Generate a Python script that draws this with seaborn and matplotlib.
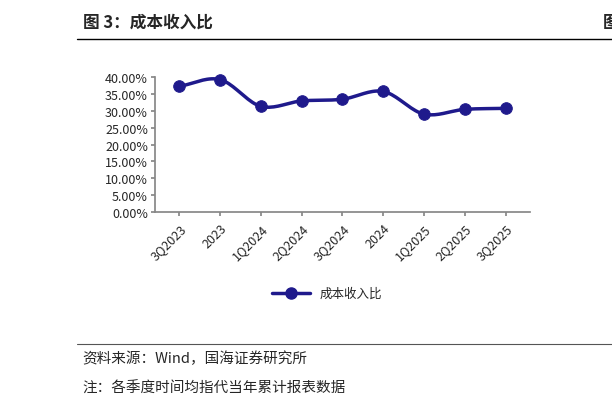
import numpy as np
import pandas as pd
import matplotlib
matplotlib.use("Agg")
import matplotlib.pyplot as plt
import seaborn as sns

categories = ["3Q2023", "2023", "1Q2024", "2Q2024", "3Q2024", "2024", "1Q2025", "2Q2025", "3Q2025"]
values = [37.2, 39.2, 31.3, 32.9, 33.4, 35.7, 29.0, 30.4, 30.7]
series_name = "成本收入比"

sns.set_theme(style="white")
plt.rcParams['font.family'] = ['Noto Sans CJK SC', 'DejaVu Sans']

df = pd.DataFrame({"cat": categories, "val": np.array(values) / 100, "x": np.arange(len(categories))})

fig = plt.figure(figsize=(6.12, 4.10), dpi=100)
ax = fig.add_axes([0.253, 0.480, 0.613, 0.330])
color = "#1F1A8C"

x = df["x"].to_numpy(float); y = df["val"].to_numpy()
px = np.concatenate([[2*x[0]-x[1]], x, [2*x[-1]-x[-2]]])
py = np.concatenate([[2*y[0]-y[1]], y, [2*y[-1]-y[-2]]])
sx, sy = [], []
t = np.linspace(0, 1, 20)
for i in range(1, len(px)-2):
    for arr, out in ((px, sx), (py, sy)):
        p0, p1, p2, p3 = arr[i-1:i+3]
        out.extend(0.5*((2*p1) + (-p0+p2)*t + (2*p0-5*p1+4*p2-p3)*t**2 + (-p0+3*p1-3*p2+p3)*t**3))
ax.plot(sx, sy, color=color, lw=2.5, clip_on=False)
sns.scatterplot(data=df, x="x", y="val", color=color, s=70, ax=ax, zorder=3, edgecolor=color, clip_on=False)
ax.plot([], [], color=color, lw=2.5, marker="o", ms=8, label=series_name)

ax.set_ylim(0, 0.40)
ax.set_yticks(np.arange(0, 0.401, 0.05))
ax.set_yticklabels([f"{v*100:.2f}%" for v in np.arange(0, 0.401, 0.05)], fontsize=9)
ax.set_xlim(-0.6, len(categories)-0.4)
ax.set_xticks(df["x"])
ax.set_xticklabels(categories, rotation=45, ha="right", rotation_mode="anchor", fontsize=9)
ax.set_xlabel(""); ax.set_ylabel("")
for s in ["top", "right"]:
    ax.spines[s].set_visible(False)
for s in ["left", "bottom"]:
    ax.spines[s].set_color("#888888")
ax.tick_params(axis="y", left=True, length=3, color="#888888", pad=2)
ax.tick_params(axis="x", bottom=True, length=3, color="#888888")

ax.legend(loc="upper center", bbox_to_anchor=(0.46, -0.47), frameon=False, fontsize=9, handlelength=3)

fig.text(0.135, 0.945, "图 3：成本收入比", fontsize=12, fontweight="bold", va="center")
fig.text(0.985, 0.945, "图", fontsize=12, fontweight="bold", va="center")
fig.add_artist(plt.Line2D([0.125, 1.0], [0.903, 0.903], color="black", lw=1))
fig.add_artist(plt.Line2D([0.125, 1.0], [0.158, 0.158], color="#555555", lw=0.8))
fig.text(0.135, 0.125, "资料来源：Wind，国海证券研究所", fontsize=10.5, va="center")
fig.text(0.135, 0.053, "注：各季度时间均指代当年累计报表数据", fontsize=10.5, va="center")

fig.savefig("out.png", dpi=100)
